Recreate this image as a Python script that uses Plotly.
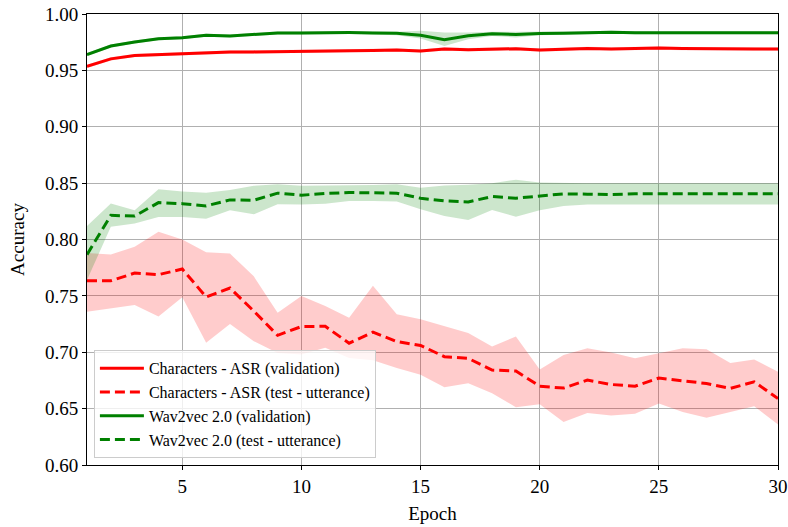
import plotly.graph_objects as go

epochs = list(range(1, 31))

# Characters - ASR (validation)
char_val = [0.9536, 0.9602, 0.9632, 0.9640, 0.9650, 0.9656, 0.9662, 0.9664, 0.9668, 0.9670,
            0.9672, 0.9674, 0.9677, 0.9680, 0.9672, 0.9690, 0.9684, 0.9686, 0.9692, 0.9680,
            0.9688, 0.9695, 0.9690, 0.9692, 0.9698, 0.9693, 0.9690, 0.9690, 0.9690, 0.9689]
char_val_lo = [v - 0.0014 for v in char_val]
char_val_hi = [v + 0.0014 for v in char_val]

# Characters - ASR (test - utterance)
char_test = [0.7634, 0.7634, 0.7702, 0.7688, 0.7738, 0.7490, 0.7570, 0.7365, 0.7150, 0.7228,
             0.7230, 0.7080, 0.7178, 0.7095, 0.7060, 0.6961, 0.6946, 0.6842, 0.6833, 0.6699,
             0.6682, 0.6753, 0.6714, 0.6699, 0.6771, 0.6747, 0.6723, 0.6679, 0.6738, 0.6589]
char_test_lo = [0.7360, 0.7390, 0.7420, 0.7316, 0.7488, 0.7085, 0.7250, 0.7098, 0.6994, 0.6980,
                0.7039, 0.6950, 0.6930, 0.6860, 0.6800, 0.6690, 0.6726, 0.6637, 0.6512, 0.6539,
                0.6381, 0.6461, 0.6440, 0.6455, 0.6545, 0.6470, 0.6420, 0.6470, 0.6521, 0.6360]
char_test_hi = [0.7880, 0.7866, 0.7935, 0.8068, 0.8000, 0.7887, 0.7875, 0.7673, 0.7351, 0.7500,
                0.7410, 0.7307, 0.7590, 0.7336, 0.7292, 0.7229, 0.7170, 0.7051, 0.7140, 0.6848,
                0.6976, 0.7036, 0.6997, 0.6946, 0.6991, 0.7036, 0.7027, 0.6905, 0.6935, 0.6827]

# Wav2vec 2.0 (validation)
w2v_val = [0.9641, 0.9716, 0.9751, 0.9781, 0.9790, 0.9811, 0.9805, 0.9817, 0.9832, 0.9832,
           0.9835, 0.9835, 0.9832, 0.9830, 0.9812, 0.9771, 0.9808, 0.9825, 0.9818, 0.9828,
           0.9830, 0.9833, 0.9838, 0.9834, 0.9832, 0.9834, 0.9834, 0.9833, 0.9832, 0.9833]
w2v_val_lo = [0.9628, 0.9703, 0.9738, 0.9768, 0.9777, 0.9798, 0.9792, 0.9804, 0.9819, 0.9819,
              0.9822, 0.9822, 0.9819, 0.9812, 0.9783, 0.9717, 0.9777, 0.9805, 0.9792, 0.9812,
              0.9817, 0.9820, 0.9825, 0.9821, 0.9819, 0.9821, 0.9821, 0.9820, 0.9819, 0.9820]
w2v_val_hi = [0.9654, 0.9729, 0.9764, 0.9794, 0.9803, 0.9824, 0.9818, 0.9830, 0.9845, 0.9845,
              0.9848, 0.9848, 0.9845, 0.9842, 0.9851, 0.9836, 0.9835, 0.9842, 0.9842, 0.9842,
              0.9843, 0.9846, 0.9851, 0.9847, 0.9845, 0.9847, 0.9847, 0.9846, 0.9845, 0.9846]

# Wav2vec 2.0 (test - utterance)
w2v_test = [0.7866, 0.8214, 0.8208, 0.8327, 0.8318, 0.8298, 0.8351, 0.8348, 0.8411, 0.8393,
            0.8408, 0.8417, 0.8414, 0.8411, 0.8366, 0.8342, 0.8333, 0.8381, 0.8366, 0.8387,
            0.8405, 0.8402, 0.8399, 0.8405, 0.8405, 0.8405, 0.8405, 0.8405, 0.8405, 0.8405]
w2v_test_lo = [0.7640, 0.8113, 0.8143, 0.8200, 0.8200, 0.8185, 0.8260, 0.8223, 0.8313, 0.8310,
               0.8318, 0.8342, 0.8342, 0.8336, 0.8268, 0.8208, 0.8173, 0.8262, 0.8202, 0.8260,
               0.8298, 0.8310, 0.8310, 0.8310, 0.8310, 0.8310, 0.8310, 0.8310, 0.8310, 0.8310]
w2v_test_hi = [0.8119, 0.8320, 0.8260, 0.8446, 0.8426, 0.8414, 0.8440, 0.8476, 0.8490, 0.8476,
               0.8480, 0.8480, 0.8483, 0.8490, 0.8460, 0.8480, 0.8485, 0.8500, 0.8530, 0.8506,
               0.8500, 0.8500, 0.8500, 0.8500, 0.8500, 0.8500, 0.8500, 0.8500, 0.8500, 0.8500]

y_ticks = [0.60, 0.65, 0.70, 0.75, 0.80, 0.85, 0.90, 0.95, 1.00]
x_ticks = [5, 10, 15, 20, 25, 30]

RED = "#ff0000"
GREEN = "#008000"
RED_BAND = "rgba(255,0,0,0.2)"
GREEN_BAND = "rgba(0,128,0,0.2)"
FONT = "Liberation Serif"

fig = go.Figure()


def add_band(lo, hi, color):
    fig.add_trace(go.Scatter(x=epochs, y=lo, mode="lines", line=dict(width=0),
                             showlegend=False, hoverinfo="skip"))
    fig.add_trace(go.Scatter(x=epochs, y=hi, mode="lines", line=dict(width=0),
                             fill="tonexty", fillcolor=color,
                             showlegend=False, hoverinfo="skip"))


add_band(char_val_lo, char_val_hi, RED_BAND)
add_band(char_test_lo, char_test_hi, RED_BAND)
add_band(w2v_val_lo, w2v_val_hi, GREEN_BAND)
add_band(w2v_test_lo, w2v_test_hi, GREEN_BAND)

fig.add_trace(go.Scatter(x=epochs, y=char_val, mode="lines", name="Characters - ASR (validation)",
                         line=dict(color=RED, width=3)))
fig.add_trace(go.Scatter(x=epochs, y=char_test, mode="lines", name="Characters - ASR (test - utterance)",
                         line=dict(color=RED, width=3, dash="10px,5px")))
fig.add_trace(go.Scatter(x=epochs, y=w2v_val, mode="lines", name="Wav2vec 2.0 (validation)",
                         line=dict(color=GREEN, width=3)))
fig.add_trace(go.Scatter(x=epochs, y=w2v_test, mode="lines", name="Wav2vec 2.0 (test - utterance)",
                         line=dict(color=GREEN, width=3, dash="10px,5px")))

fig.update_layout(
    width=788, height=527,
    margin=dict(l=87, r=10, t=14, b=62, autoexpand=False),
    paper_bgcolor="white", plot_bgcolor="white",
    font=dict(family=FONT, size=19, color="black"),
    showlegend=True,
    legend=dict(
        x=0.01, y=0.015, xanchor="left", yanchor="bottom",
        bgcolor="rgba(255,255,255,0.8)", bordercolor="#cccccc", borderwidth=1,
        font=dict(family=FONT, size=16, color="black"),
        tracegroupgap=0, itemwidth=44, traceorder="normal",
    ),
)

fig.update_xaxes(
    range=[1, 30], tickvals=x_ticks, ticks="outside", ticklen=4, tickcolor="black",
    showline=True, linecolor="black", linewidth=1, mirror=True, automargin=False,
    ticklabeloverflow="allow",
    showgrid=True, gridcolor="#b0b0b0", gridwidth=1, zeroline=False,
    title=dict(text="Epoch", font=dict(family=FONT, size=19), standoff=10),
    tickfont=dict(family=FONT, size=19),
)
fig.update_yaxes(
    range=[0.60, 1.00], tickvals=y_ticks, tickformat=".2f", ticks="outside", ticklen=4,
    tickcolor="black", automargin=False, ticklabeloverflow="allow",
    showline=True, linecolor="black", linewidth=1, mirror=True,
    showgrid=True, gridcolor="#b0b0b0", gridwidth=1, zeroline=False,
    title=dict(text="Accuracy", font=dict(family=FONT, size=19), standoff=15),
    tickfont=dict(family=FONT, size=19),
)

fig.write_html("out.html", config={"displayModeBar": False},
               post_script="document.body.style.margin='0';")
